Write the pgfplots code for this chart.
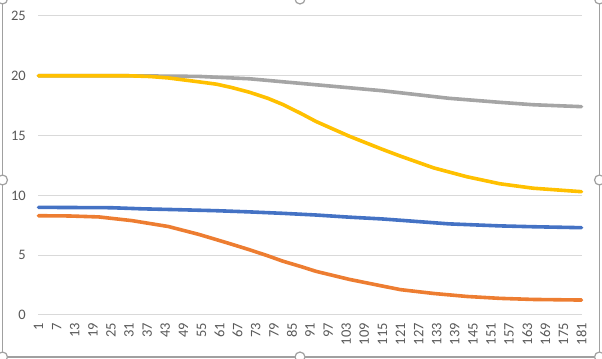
\documentclass[border=0pt]{standalone}
\usepackage{pgfplots}
\pgfplotsset{compat=1.18}
\usepackage{fontspec}
\setmainfont{Carlito}
\definecolor{sblue}{HTML}{4472C4}
\definecolor{sorange}{HTML}{ED7D31}
\definecolor{sgray}{HTML}{A5A5A5}
\definecolor{syellow}{HTML}{FFC000}
\definecolor{txt}{HTML}{595959}
\definecolor{gridc}{HTML}{D9D9D9}
\definecolor{framec}{HTML}{A0A0A0}
\begin{document}
\begin{tikzpicture}
\useasboundingbox (0,0) rectangle (602bp,359bp);
\begin{axis}[
  at={(38.5bp,44bp)}, anchor=south west,
  scale only axis, width=543bp, height=299bp,
  xmin=1, xmax=181, ymin=0, ymax=25,
  xtick={1,7,...,181}, ytick={0,5,...,25},
  axis line style={draw=none},
  major tick length=0pt,
  ymajorgrids, xmajorgrids=false,
  major grid style={draw=gridc, line width=1bp},
  tick label style={font=\fontsize{14.5bp}{16bp}\selectfont, text=txt},
  /pgf/number format/assume math mode=true,
  xticklabel style={yshift=-8bp, rotate=90, anchor=east, inner sep=0pt},
  yticklabel style={anchor=east, inner sep=0pt, xshift=-12.5bp},
  every axis plot/.append style={line width=3.6bp, line join=round, line cap=round},
  clip=false,
]
% blue
\addplot[sblue] coordinates {(1,9.0)(25,8.97)(35,8.88)(48,8.8)(60,8.72)(71,8.62)(82,8.5)(93,8.36)(104,8.18)(115,8.03)(121,7.92)(137,7.62)(154,7.45)(165,7.38)(181,7.3)};
% orange
\addplot[sorange] coordinates {(1,8.3)(11,8.28)(21,8.2)(32,7.89)(44,7.4)(54,6.75)(60,6.3)(65,5.92)(71,5.45)(77,4.95)(82,4.5)(88,4.05)(93,3.65)(104,2.98)(115,2.42)(121,2.12)(132,1.8)(143,1.55)(154,1.39)(165,1.3)(181,1.25)};
% gray
\addplot[sgray] coordinates {(1,20.0)(31,20.0)(54,19.95)(71,19.75)(82,19.5)(93,19.25)(104,19.0)(115,18.75)(121,18.58)(137,18.12)(154,17.78)(165,17.58)(181,17.42)};
% yellow
\addplot[syellow] coordinates {(1,20.0)(31,20.0)(38,19.94)(44,19.82)(54,19.5)(60,19.3)(65,19.02)(71,18.62)(77,18.12)(82,17.6)(88,16.85)(93,16.18)(104,14.95)(115,13.85)(121,13.28)(132,12.3)(143,11.56)(154,10.97)(165,10.6)(181,10.31)};
\end{axis}
% selection frame (decoration)
\draw[framec, line width=1.2bp] (2.5bp,2bp) rectangle (599.5bp,362bp);
\foreach \p in {(2.5bp,2bp),(300bp,2bp),(599.5bp,2bp),(2.5bp,179bp),(599.5bp,179bp),(2.5bp,360bp),(300bp,360bp),(599.5bp,360bp)}
  \draw[framec, fill=white, line width=1.2bp] \p circle (5bp);
\end{tikzpicture}
\end{document}
